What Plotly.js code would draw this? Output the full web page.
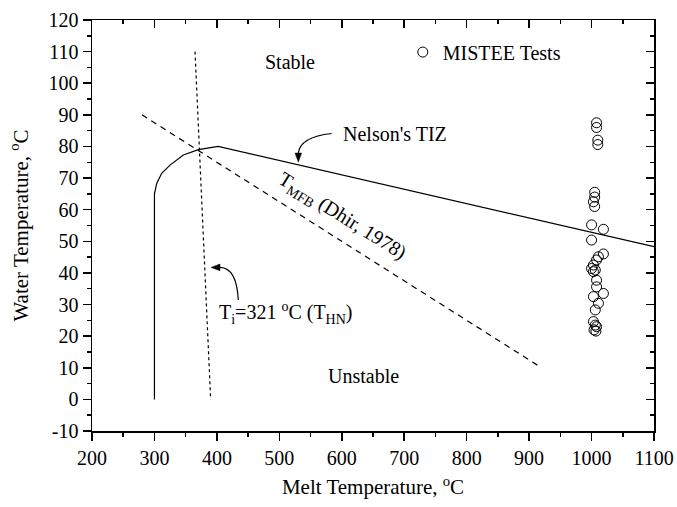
<!DOCTYPE html>
<html>
<head>
<meta charset="utf-8">
<script src="https://cdn.plot.ly/plotly-3.0.1.min.js"></script>
<style>html,body{margin:0;padding:0;background:#fff;}#chart{width:677px;height:507px;}</style>
</head>
<body>
<div id="chart"></div>
<script>
// MISTEE test points
const misteeMelt = [1008, 1008, 1010, 1010, 1005, 1005, 1003, 1005, 1000, 1019, 1000, 1011, 1019, 1008, 1003, 1000, 1006, 1003, 1008, 1008, 1019, 1003, 1011, 1006, 1003, 1006, 1008, 1004, 1007];
const misteeWater = [87.5, 86, 82, 80.6, 65.5, 64, 62.5, 61, 55.2, 53.8, 50.4, 45.1, 46, 44.1, 42.5, 41.4, 40.9, 40.4, 37.7, 35.6, 33.5, 32.5, 30.4, 28.3, 24.6, 23.5, 23, 22, 21.6];
// Nelson's TIZ boundary
const tizMelt = [300, 300, 303.6, 311.6, 324.9, 346.3, 370.3, 402, 1100];
const tizWater = [0, 65, 68.3, 71.5, 74.1, 77.3, 79, 80, 48.3];
// T_MFB (Dhir, 1978)
const mfbMelt = [280, 920];
const mfbWater = [90, 10];
// T_HN line
const hnMelt = [365, 390];
const hnWater = [110, 0];
// tick labels
const xTickVals = [200, 300, 400, 500, 600, 700, 800, 900, 1000, 1100];
const xTickText = ['200', '300', '400', '500', '600', '700', '800', '900', '1000', '1100'];
const yTickVals = [-10, 0, 10, 20, 30, 40, 50, 60, 70, 80, 90, 100, 110, 120];
const yTickText = ['-10', '0', '10', '20', '30', '40', '50', '60', '70', '80', '90', '100', '110', '120'];

const FONT = "'Times New Roman', 'Liberation Serif', serif";

const traces = [
  {x: tizMelt, y: tizWater, mode: 'lines', line: {color: '#000', width: 1.2}, showlegend: false, hoverinfo: 'skip'},
  {x: mfbMelt, y: mfbWater, mode: 'lines', line: {color: '#000', width: 1.2, dash: '6px,5px'}, showlegend: false, hoverinfo: 'skip'},
  {x: hnMelt, y: hnWater, mode: 'lines', line: {color: '#000', width: 1.2, dash: 'dot'}, showlegend: false, hoverinfo: 'skip'},
  {x: misteeMelt, y: misteeWater, mode: 'markers', name: 'MISTEE Tests',
   marker: {symbol: 'circle-open', size: 10, color: '#000', line: {width: 1, color: '#000'}}},
  {x: [], y: [], xaxis: 'x2', yaxis: 'y2', mode: 'markers', showlegend: false, hoverinfo: 'skip'}
];

const axCommon = {
  showgrid: false, zeroline: false, showline: true, linecolor: '#000', linewidth: 1.5,
  tickcolor: '#000', tickwidth: 1.5, ticklen: 8,
  tickfont: {family: FONT, size: 20, color: '#000'}
};

const layout = {
  width: 677, height: 507,
  margin: {l: 92, r: 23, t: 20, b: 76},
  paper_bgcolor: '#fff', plot_bgcolor: '#fff',
  font: {family: FONT, size: 20, color: '#000'},
  xaxis: Object.assign({}, axCommon, {
    range: [200, 1100], tickmode: 'array', tickvals: xTickVals, ticktext: xTickText, ticks: 'outside',
    minor: {dtick: 50, tick0: 200, ticks: 'outside', ticklen: 4, tickwidth: 1.5, tickcolor: '#000'},
    title: {text: 'Melt Temperature, <sup>o</sup>C', font: {family: FONT, size: 21, color: '#000'}, standoff: 12}
  }),
  yaxis: Object.assign({}, axCommon, {
    range: [-10, 120], tickmode: 'array', tickvals: yTickVals, ticktext: yTickText, ticks: 'outside',
    minor: {dtick: 5, tick0: 0, ticks: 'outside', ticklen: 4, tickwidth: 1.5, tickcolor: '#000'},
    title: {text: 'Water Temperature, <sup>o</sup>C', font: {family: FONT, size: 21, color: '#000'}, standoff: 14}
  }),
  xaxis2: Object.assign({}, axCommon, {
    overlaying: 'x', side: 'top', anchor: 'y', range: [200, 1100], tickmode: 'array', tickvals: xTickVals,
    ticks: 'inside', showticklabels: false,
    minor: {dtick: 50, tick0: 200, ticks: 'inside', ticklen: 4, tickwidth: 1.5, tickcolor: '#000'}
  }),
  yaxis2: Object.assign({}, axCommon, {
    overlaying: 'y', side: 'right', anchor: 'x', range: [-10, 120], tickmode: 'array', tickvals: yTickVals,
    ticks: 'inside', showticklabels: false,
    minor: {dtick: 5, tick0: 0, ticks: 'inside', ticklen: 4, tickwidth: 1.5, tickcolor: '#000'}
  }),
  showlegend: true,
  legend: {x: 0.553, y: 0.922, xanchor: 'left', yanchor: 'middle', bgcolor: 'rgba(0,0,0,0)',
           font: {family: FONT, size: 20, color: '#000'}},
  shapes: [
    // curved leader lines
    {type: 'path', xref: 'x', yref: 'y', path: 'M 583.9,84.1 Q 533.3,83.0 530.4,77.9', line: {color: '#000', width: 1.2}},
    {type: 'path', xref: 'x', yref: 'y', path: 'M 434.3,31.4 Q 431.7,41.6 405,41.75', line: {color: '#000', width: 1.2}},
    // arrowheads
    {type: 'path', xref: 'x', yref: 'y', path: 'M 530.4,75.05 L 525.1,77.9 L 535.7,77.9 Z', fillcolor: '#000', line: {color: '#000', width: 0.5}},
    {type: 'path', xref: 'x', yref: 'y', path: 'M 390.6,41.75 L 405,42.8 L 405,40.7 Z', fillcolor: '#000', line: {color: '#000', width: 0.5}}
  ],
  annotations: [
    {x: 517, y: 106.8, xref: 'x', yref: 'y', text: 'Stable', showarrow: false, font: {family: FONT, size: 20, color: '#000'}},
    {x: 634.6, y: 7.4, xref: 'x', yref: 'y', text: 'Unstable', showarrow: false, font: {family: FONT, size: 20, color: '#000'}},
    {x: 685.5, y: 84.1, xref: 'x', yref: 'y', text: "Nelson's TIZ", showarrow: false, font: {family: FONT, size: 20, color: '#000'}},
    {x: 510.7, y: 27.3, xref: 'x', yref: 'y', text: 'T<sub>i</sub>=321 <sup>o</sup>C (T<sub>HN</sub>)', showarrow: false, font: {family: FONT, size: 20, color: '#000'}},
    {x: 600, y: 57.8, xref: 'x', yref: 'y', text: 'T<sub>MFB</sub> (Dhir, 1978)', textangle: 32, showarrow: false, font: {family: FONT, size: 20, color: '#000'}}
  ]
};

Plotly.newPlot('chart', traces, layout, {displayModeBar: false, staticPlot: true});
</script>
</body>
</html>
